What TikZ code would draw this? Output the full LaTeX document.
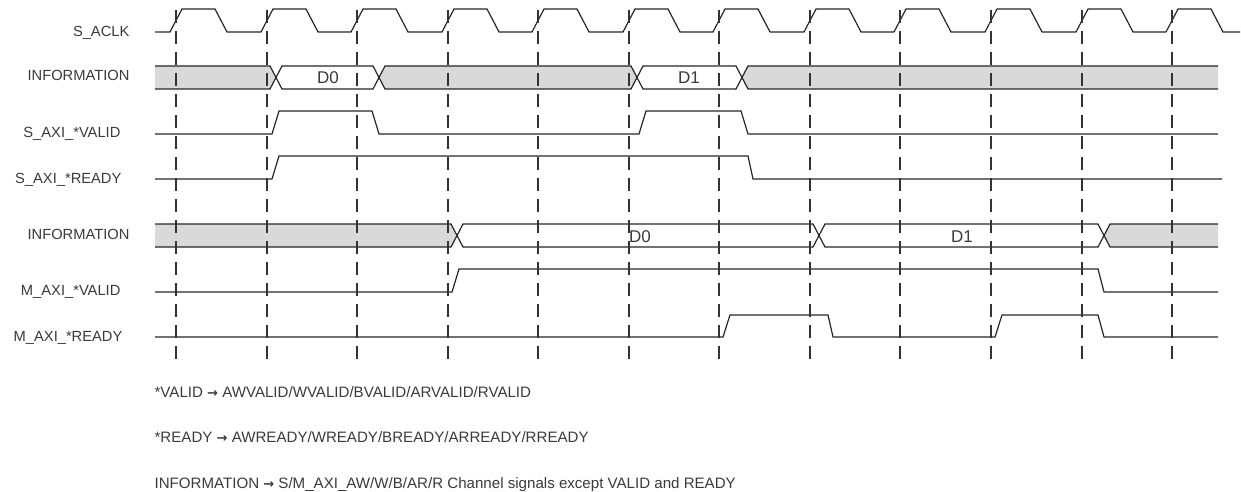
\documentclass[tikz,border=0pt]{standalone}
\usepackage{fontspec}
\setmainfont{Liberation Sans}
\newfontfamily\arrowfont{DejaVu Sans}
\definecolor{cline}{HTML}{262626}
\definecolor{cdash}{HTML}{333333}
\definecolor{cbus}{HTML}{D9D9D9}
\definecolor{ctext}{HTML}{3A3A3A}
\newcommand{\toarrow}{{\arrowfont\bfseries\fontsize{13}{14}\selectfont →}}
\tikzset{
  every picture/.style={line width=1.2pt},
  sig/.style={draw=cline, line width=1.2pt},
  tick/.style={draw=cdash, line width=2pt, dash pattern=on 13pt off 8pt},
  busfill/.style={fill=cbus},
  lbl/.style={anchor=base east, text=ctext, inner sep=0pt, font=\fontsize{14.7}{16}\selectfont},
  data/.style={anchor=base, text=ctext, inner sep=0pt, font=\fontsize{17}{19}\selectfont},
  note/.style={anchor=base west, text=ctext, inner sep=0pt, font=\fontsize{15.1}{16}\selectfont},
}
\begin{document}
\begin{tikzpicture}[x=1pt, y=-1pt]
  \useasboundingbox (0,0) rectangle (1241,492);
  % signal names
  \node[lbl] (nclk) at (130,37) {S\_ACLK};
  \node[lbl] (ninfos) at (130,81) {INFORMATION};
  \node[lbl] (nsvalid) at (121,137) {S\_AXI\_*VALID};
  \node[lbl] (nsready) at (122,183) {S\_AXI\_*READY};
  \node[lbl] (ninfom) at (130,239) {INFORMATION};
  \node[lbl] (nmvalid) at (121,295) {M\_AXI\_*VALID};
  \node[lbl] (nmready) at (123,341) {M\_AXI\_*READY};
  % bus fills
  \fill[busfill] (155,66) -- (270,66) -- (276,77.5) -- (270,89) -- (155,89) -- cycle;
  \fill[busfill] (379,77.5) -- (385,66) -- (631,66) -- (637,77.5) -- (631,89) -- (385,89) -- cycle;
  \fill[busfill] (742,77.5) -- (748,66) -- (1218,66) -- (1218,89) -- (748,89) -- cycle;
  \fill[busfill] (155,224) -- (451,224) -- (457,235.5) -- (451,247) -- (155,247) -- cycle;
  \fill[busfill] (1104,235.5) -- (1110,224) -- (1218,224) -- (1218,247) -- (1110,247) -- cycle;
  % clock
  \draw[sig] (155,32) \foreach \x in {176,267,357,448,538,629,719,810,900,991,1082,1172} {
    -- ({\x-6},32) -- ({\x+6},9) -- ({\x+39},9) -- ({\x+51},32)
  } -- (1240,32);
  % slave side
  \draw[sig] (155,66) -- (270,66) -- (282,89) -- (373,89) -- (385,66) -- (631,66) -- (643,89) -- (736,89) -- (748,66) -- (1218,66);
  \draw[sig] (155,89) -- (270,89) -- (282,66) -- (373,66) -- (385,89) -- (631,89) -- (643,66) -- (736,66) -- (748,89) -- (1218,89);
  \node[data] (sd0) at (328,84) {D0};
  \node[data] (sd1) at (689,84) {D1};
  \draw[sig] (155,134) -- (272,134) -- (279,111) -- (372,111) -- (379,134) -- (639,134) -- (646,111) -- (741,111) -- (748,134) -- (1218,134);
  \draw[sig] (155,179) -- (272,179) -- (279,156) -- (748,156) -- (753,179) -- (1222,179);
  % master side
  \draw[sig] (155,224) -- (451,224) -- (463,247) -- (813,247) -- (825,224) -- (1098,224) -- (1110,247) -- (1218,247);
  \draw[sig] (155,247) -- (451,247) -- (463,224) -- (813,224) -- (825,247) -- (1098,247) -- (1110,224) -- (1218,224);
  \node[data] (md0) at (640,242) {D0};
  \node[data] (md1) at (962,242) {D1};
  \draw[sig] (155,292) -- (452,292) -- (459,269) -- (1098,269) -- (1104,292) -- (1218,292);
  \draw[sig] (155,337) -- (723,337) -- (730,315) -- (828,315) -- (833,337) -- (995,337) -- (1002,315) -- (1098,315) -- (1104,337) -- (1218,337);
  % clock edges
  \foreach \x in {176,267,357,448,538,629,719,810,900,991,1082,1172}
    \draw[tick] (\x,10) -- (\x,365);
  % legend
  \node[note] (kvalid) at (154,397) {*VALID \toarrow{} AWVALID/WVALID/BVALID/ARVALID/RVALID};
  \node[note] (kready) at (154,442) {*READY \toarrow{} AWREADY/WREADY/BREADY/ARREADY/RREADY};
  \node[note] (kinfo) at (154,488) {INFORMATION \toarrow{} S/M\_AXI\_AW/W/B/AR/R Channel signals except VALID and READY};
\end{tikzpicture}
\end{document}
